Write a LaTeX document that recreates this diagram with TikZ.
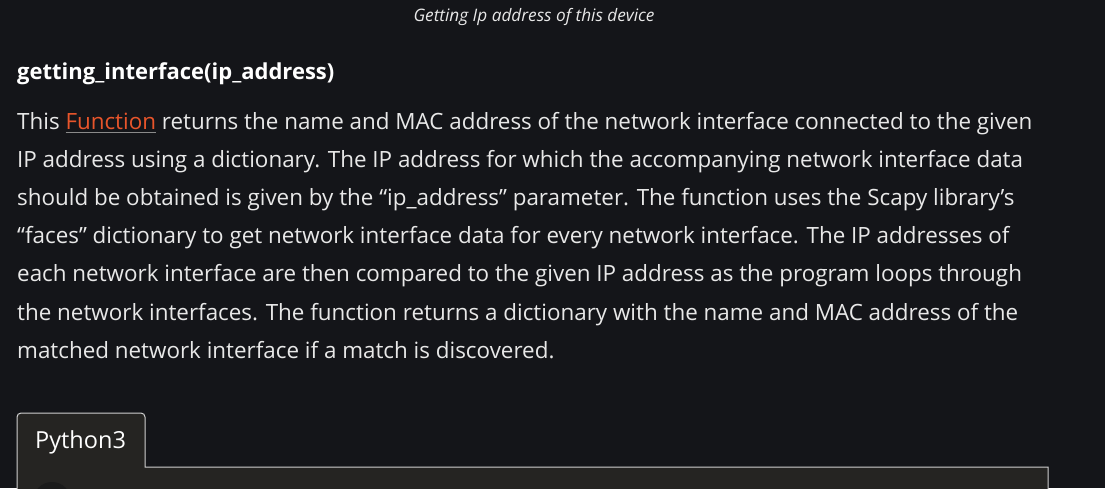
\documentclass[tikz,border=0pt]{standalone}
\usepackage{fontspec}
\setmainfont{Open Sans}
\definecolor{bgc}{HTML}{141519}
\definecolor{codebg}{HTML}{252422}
\definecolor{bordc}{HTML}{D0D0D0}
\definecolor{txt}{HTML}{E8E8E8}
\definecolor{linkc}{HTML}{E8552B}
\definecolor{ulc}{HTML}{8A8A8A}
\definecolor{btnc}{HTML}{1B1B1B}
\newcommand\ulink[1]{\setbox0\hbox{#1}\rlap{\color{ulc}\rule[-3.8pt]{\wd0}{1.3pt}}\textcolor{linkc}{#1}}
\begin{document}
\begin{tikzpicture}[x=1pt,y=-1pt,
  para/.style={anchor=base west,inner sep=0pt,text=txt,font=\fontsize{22.4}{26}\selectfont},
  ]
\fill[bgc] (0,0) rectangle (1105,488);
\useasboundingbox (0,0) rectangle (1105,488);
% caption
\node[anchor=base,inner sep=0pt,text=txt,font=\fontsize{17.2}{20}\selectfont\itshape] (cap) at (534,21) {Getting Ip address of this device};
% heading
\node[anchor=base west,inner sep=0pt,text=white,font=\fontsize{22}{26}\selectfont\bfseries] (head) at (17,79) {getting\_interface(ip\_address)};
% paragraph
\node[para] (l1) at (17,129) {This \ulink{Function} returns the name and MAC address of the network interface connected to the given};
\node[para] (l2) at (17,167) {IP address using a dictionary. The IP address for which the accompanying network interface data};
\node[para] (l3) at (17,205) {should be obtained is given by the “ip\_address” parameter. The function uses the Scapy library’s};
\node[para] (l4) at (17,243) {“faces” dictionary to get network interface data for every network interface. The IP addresses of};
\node[para] (l5) at (17,281) {each network interface are then compared to the given IP address as the program loops through};
\node[para] (l6) at (17,320) {the network interfaces. The function returns a dictionary with the name and MAC address of the};
\node[para] (l7) at (17,358) {matched network interface if a match is discovered.};
% code panel with tab
\filldraw[fill=codebg,draw=bordc,line width=1pt]
  (17,495) -- (17,417) arc[start angle=180,end angle=270,radius=4] -- (141,413)
  arc[start angle=270,end angle=360,radius=4] -- (145,467) -- (1048,467) -- (1048,495);
\node[anchor=base west,inner sep=0pt,text=white,font=\fontsize{23.5}{28}\selectfont] (tab) at (35,448) {Python3};
\fill[btnc] (52,501) circle (19);
\end{tikzpicture}
\end{document}
